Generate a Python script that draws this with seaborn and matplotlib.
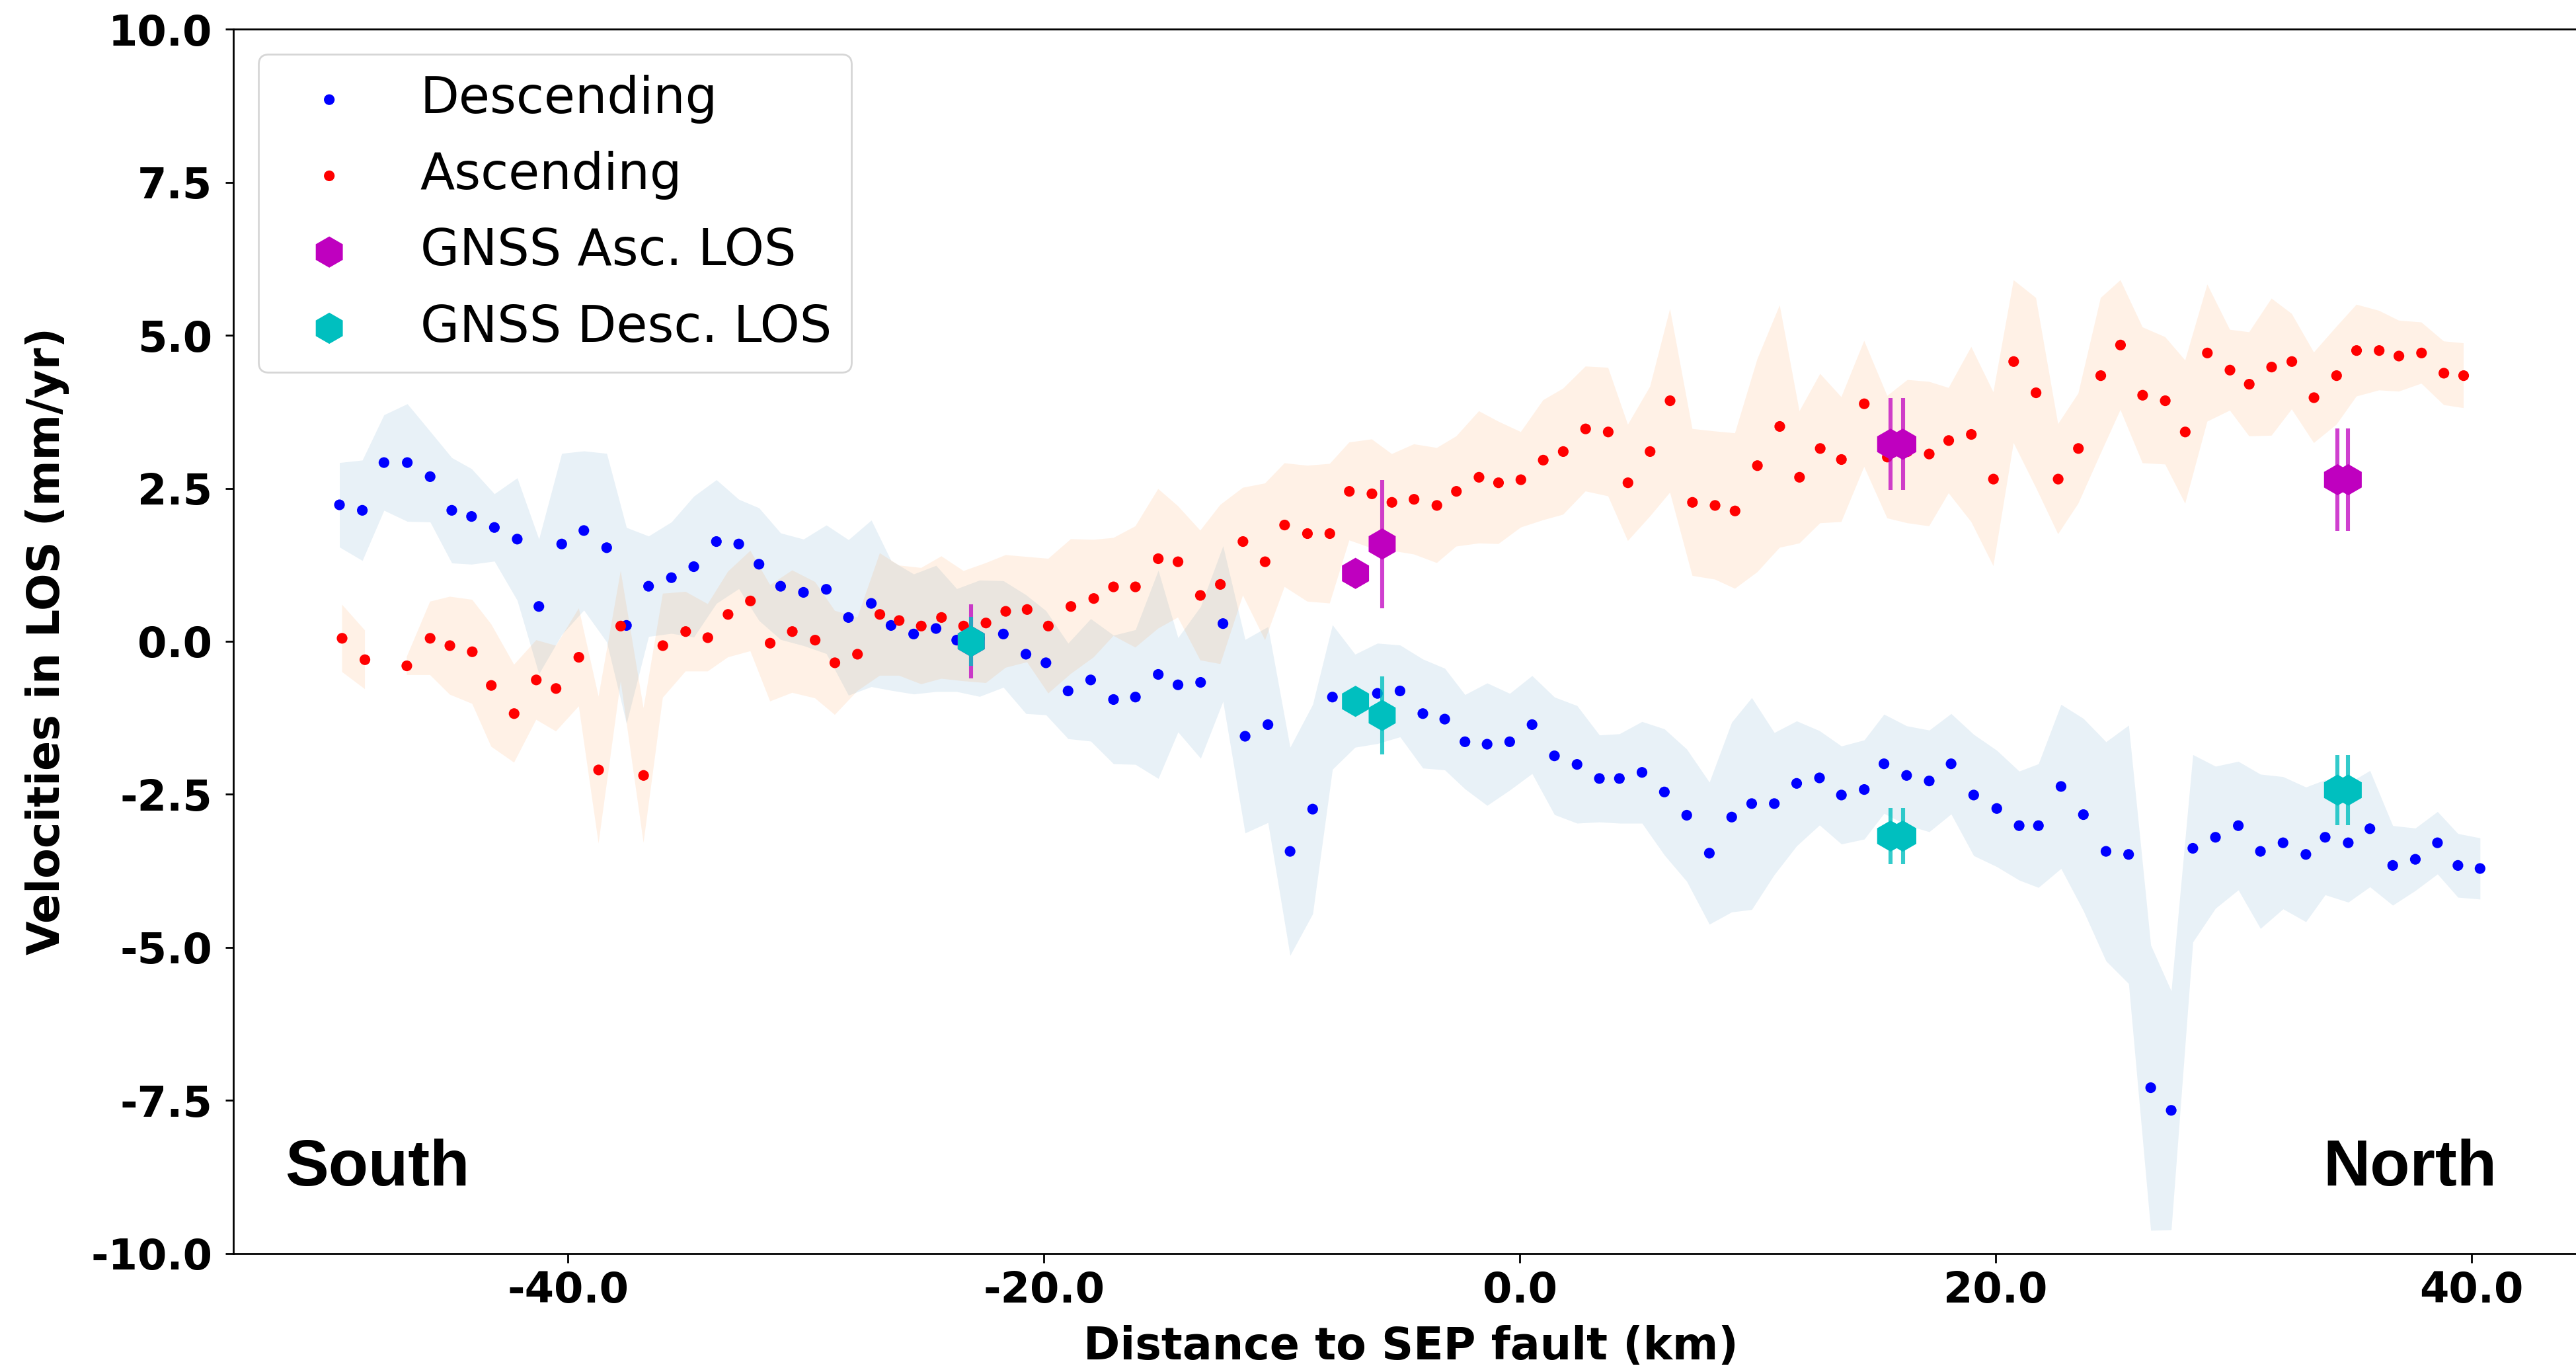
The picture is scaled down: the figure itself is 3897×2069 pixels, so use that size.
import numpy as np
import pandas as pd
import matplotlib
matplotlib.use("Agg")
import matplotlib.pyplot as plt
import seaborn as sns

# ---------------- data ----------------
desc_x = [-49.60, -48.64, -47.73, -46.75, -45.79, -44.88, -44.05, -43.09, -42.13, -41.22,
          -40.26, -39.33, -38.37, -37.54, -36.61, -35.65, -34.71, -33.76, -32.82, -31.97,
          -31.06, -30.10, -29.14, -28.21, -27.25, -26.42, -25.47, -24.53, -23.66, -22.70,
          -21.70, -20.75, -19.91, -18.98, -18.03, -17.07, -16.15, -15.19, -14.36, -13.41,
          -12.47, -11.54, -10.58, -9.65, -8.70, -7.87, -6.92, -5.98, -5.03, -4.07,
          -3.15, -2.30, -1.37, -0.42, 0.52, 1.46, 2.41, 3.35, 4.19, 5.14,
          6.08, 7.02, 7.97, 8.91, 9.75, 10.70, 11.64, 12.60, 13.52, 14.48,
          15.31, 16.26, 17.21, 18.13, 19.08, 20.05, 20.99, 21.80, 22.75, 23.69,
          24.64, 25.59, 26.52, 27.38, 28.29, 29.24, 30.20, 31.13, 32.08, 33.04,
          33.85, 34.82, 35.73, 36.69, 37.64, 38.57, 39.43, 40.36]
desc_y = [2.23, 2.14, 2.92, 2.92, 2.69, 2.14, 2.04, 1.86, 1.67, 0.57,
          1.59, 1.81, 1.53, 0.26, 0.90, 1.04, 1.22, 1.63, 1.59, 1.26,
          0.90, 0.80, 0.85, 0.39, 0.62, 0.26, 0.12, 0.21, 0.02, 0.05,
          0.12, -0.21, -0.35, -0.81, -0.63, -0.95, -0.91, -0.54, -0.71, -0.67,
          0.29, -1.55, -1.36, -3.43, -2.74, -0.91, -0.97, -0.85, -0.81, -1.18,
          -1.27, -1.64, -1.68, -1.64, -1.36, -1.87, -2.01, -2.24, -2.24, -2.14,
          -2.46, -2.84, -3.46, -2.87, -2.65, -2.65, -2.32, -2.23, -2.51, -2.42,
          -2.00, -2.19, -2.28, -2.00, -2.51, -2.73, -3.01, -3.01, -2.37, -2.83,
          -3.43, -3.48, -7.29, -7.66, -3.38, -3.20, -3.01, -3.43, -3.29, -3.48,
          -3.20, -3.29, -3.06, -3.66, -3.56, -3.29, -3.66, -3.71]
desc_std = [0.69, 0.82, 0.78, 0.96, 0.74, 0.86, 0.78, 0.55, 1.00, 1.10,
            1.48, 1.30, 1.54, 1.60, 0.82, 0.91, 1.15, 1.01, 0.73, 0.92,
            0.87, 0.87, 1.05, 1.27, 1.36, 1.06, 0.98, 1.03, 0.84, 0.95,
            0.87, 0.97, 0.85, 0.78, 1.00, 1.05, 1.10, 1.70, 0.77, 1.24,
            1.27, 1.58, 1.60, 1.70, 1.71, 1.18, 0.76, 0.82, 0.75, 0.89,
            0.83, 0.77, 1.00, 0.79, 0.80, 0.96, 0.96, 0.71, 0.73, 0.83,
            1.03, 1.08, 1.16, 1.55, 1.73, 1.16, 1.02, 0.77, 0.80, 0.81,
            0.81, 0.81, 0.83, 0.82, 0.99, 0.95, 0.89, 1.01, 1.34, 1.57,
            1.79, 2.11, 2.33, 1.95, 1.53, 1.16, 1.05, 1.26, 1.08, 1.10,
            0.94, 0.97, 0.95, 0.65, 0.51, 0.51, 0.52, 0.50]

asc_x = [-49.49, -48.53, -47.65, -46.77, -45.79, -44.96, -44.02, -43.22, -42.26, -41.33,
         -40.50, -39.54, -38.71, -37.78, -36.82, -36.01, -35.05, -34.12, -33.27, -32.33,
         -31.50, -30.57, -29.61, -28.78, -27.83, -26.89, -26.08, -25.15, -24.30, -23.37,
         -22.43, -21.60, -20.70, -19.81, -18.86, -17.90, -17.07, -16.15, -15.19, -14.36,
         -13.42, -12.58, -11.63, -10.70, -9.88, -8.92, -7.98, -7.16, -6.21, -5.37,
         -4.44, -3.48, -2.66, -1.71, -0.89, 0.05, 0.99, 1.83, 2.77, 3.72,
         4.55, 5.48, 6.32, 7.26, 8.21, 9.05, 9.99, 10.93, 11.76, 12.63,
         13.52, 14.48, 15.45, 16.30, 17.21, 18.03, 18.98, 19.91, 20.76, 21.70,
         22.63, 23.48, 24.42, 25.25, 26.18, 27.13, 27.97, 28.90, 29.85, 30.66,
         31.60, 32.45, 33.38, 34.33, 35.17, 36.12, 36.95, 37.90, 38.84, 39.67]
asc_y = [0.05, -0.30, np.nan, -0.40, 0.05, -0.07, -0.17, -0.72, -1.18, -0.63,
         -0.77, -0.26, -2.10, 0.25, -2.19, -0.07, 0.16, 0.06, 0.44, 0.66,
         -0.03, 0.16, 0.02, -0.35, -0.21, 0.44, 0.34, 0.25, 0.39, 0.25,
         0.30, 0.49, 0.52, 0.25, 0.57, 0.70, 0.89, 0.89, 1.35, 1.30,
         0.75, 0.93, 1.63, 1.30, 1.90, 1.76, 1.76, 2.45, 2.41, 2.27,
         2.32, 2.22, 2.45, 2.68, 2.59, 2.64, 2.96, 3.10, 3.47, 3.42,
         2.59, 3.10, 3.93, 2.27, 2.22, 2.13, 2.87, 3.51, 2.68, 3.15,
         2.97, 3.88, 3.01, 3.10, 3.06, 3.28, 3.38, 2.65, 4.57, 4.06,
         2.65, 3.15, 4.34, 4.84, 4.02, 3.93, 3.42, 4.71, 4.43, 4.20,
         4.48, 4.57, 3.98, 4.34, 4.75, 4.75, 4.66, 4.71, 4.38, 4.34]
asc_std = [0.55, 0.48, np.nan, 0.15, 0.60, 0.80, 0.85, 1.00, 0.80, 0.65,
           0.70, 0.80, 1.20, 0.90, 1.10, 0.85, 0.65, 0.55, 0.70, 0.82,
           0.95, 1.00, 0.95, 0.85, 0.60, 1.00, 0.90, 0.95, 1.00, 0.90,
           0.98, 0.92, 0.86, 1.10, 1.10, 0.96, 0.80, 0.99, 1.14, 0.91,
           1.06, 1.30, 0.88, 1.28, 1.01, 1.11, 1.14, 0.80, 0.89, 0.79,
           0.90, 0.94, 0.90, 1.08, 1.00, 0.78, 0.98, 1.03, 1.02, 1.05,
           0.95, 1.06, 1.50, 1.20, 1.21, 1.27, 1.74, 1.98, 1.08, 1.22,
           1.02, 1.03, 1.00, 1.17, 1.18, 0.86, 1.43, 1.42, 1.33, 1.55,
           0.90, 0.90, 1.27, 1.06, 1.11, 1.04, 1.17, 1.12, 0.66, 0.85,
           1.12, 0.78, 0.74, 0.80, 0.75, 0.65, 0.58, 0.50, 0.52, 0.53]

gnss_x = [-23.05, -6.90, -5.78, 15.59, 16.10, 34.37, 34.82]
gnss_asc = [0.00, 1.11, 1.59, 3.22, 3.22, 2.64, 2.64]
gnss_asc_err = [0.60, 0.10, 1.05, 0.75, 0.75, 0.84, 0.84]
gnss_desc = [0.00, -0.98, -1.21, -3.18, -3.18, -2.43, -2.43]
gnss_desc_err = [0.40, 0.10, 0.64, 0.46, 0.46, 0.57, 0.57]

xticks = [-40.0, -20.0, 0.0, 20.0, 40.0]
yticks = [-10.0, -7.5, -5.0, -2.5, 0.0, 2.5, 5.0, 7.5, 10.0]

# ---------------- figure ----------------
desc = pd.DataFrame({"x": desc_x, "y": desc_y, "s": desc_std})
asc = pd.DataFrame({"x": asc_x, "y": asc_y, "s": asc_std})

plt.rcParams['font.family'] = ['DejaVu Sans']
fig = plt.figure(figsize=(19.49, 10.345), dpi=200)
ax = fig.add_axes([0.09056, 0.08362, 1 - 0.09056, 0.97873 - 0.08362])

ax.fill_between(desc["x"], desc["y"] - desc["s"], desc["y"] + desc["s"],
                color="tab:blue", alpha=0.1, linewidth=0, zorder=1)
ax.fill_between(asc["x"], asc["y"] - asc["s"], asc["y"] + asc["s"],
                color="tab:orange", alpha=0.1, linewidth=0, zorder=1)

sns.scatterplot(data=desc, x="x", y="y", color="b", s=34, linewidth=0,
                edgecolor="none", label="Descending", ax=ax, zorder=2)
sns.scatterplot(data=asc, x="x", y="y", color="r", s=34, linewidth=0,
                edgecolor="none", label="Ascending", ax=ax, zorder=2)

ax.errorbar(gnss_x, gnss_asc, yerr=gnss_asc_err, fmt="none",
            ecolor=(0.75, 0.0, 0.75, 0.75), elinewidth=2.2, capsize=0, zorder=3)
sns.scatterplot(x=gnss_x, y=gnss_asc, marker="h", s=289, color="m", linewidth=0,
                edgecolor="none", label="GNSS Asc. LOS", ax=ax, zorder=4)
ax.errorbar(gnss_x, gnss_desc, yerr=gnss_desc_err, fmt="none",
            ecolor=(0.0, 0.75, 0.75, 0.8), elinewidth=2.2, capsize=0, zorder=5)
sns.scatterplot(x=gnss_x, y=gnss_desc, marker="h", s=289, color="c", linewidth=0,
                edgecolor="none", label="GNSS Desc. LOS", ax=ax, zorder=6)

ax.set_xlim(-54.06, 44.42)
ax.set_ylim(-10, 10)
ax.set_xticks(xticks)
ax.set_xticklabels([f"{v:.1f}" for v in xticks], fontsize=23, fontweight="bold")
ax.set_yticks(yticks)
ax.set_yticklabels([f"{v:.1f}" for v in yticks], fontsize=23, fontweight="bold")
ax.tick_params(axis="x", length=5, width=1, pad=4, direction="out")
ax.tick_params(axis="y", length=4.5, width=1, pad=7, direction="out")

for side in ["left", "bottom", "top"]:
    ax.spines[side].set_linewidth(1.0)
    ax.spines[side].set_color("black")
ax.spines["right"].set_visible(False)

ax.set_xlabel("Distance to SEP fault (km)", fontsize=24, fontweight="bold")
ax.set_ylabel("Velocities in LOS (mm/yr)", fontsize=24, fontweight="bold")
ax.xaxis.set_label_coords(0.5024, -0.0583)
ax.yaxis.set_label_coords(-0.070, 0.5)

ax.text(-51.9, -8.89, "South", fontsize=35.5, fontweight="bold",
        family=["Liberation Sans", "DejaVu Sans"], ha="left", va="baseline")
ax.text(33.75, -8.89, "North", fontsize=35.5, fontweight="bold",
        family=["Liberation Sans", "DejaVu Sans"], ha="left", va="baseline")

leg = ax.legend(loc="upper left", fontsize=27.5, frameon=True, framealpha=0.8,
                edgecolor="0.8", fancybox=True, borderaxespad=0.5,
                scatterpoints=1, labelspacing=0.54, handletextpad=0.8,
                borderpad=0.4)

fig.savefig("out.png", dpi=200)
